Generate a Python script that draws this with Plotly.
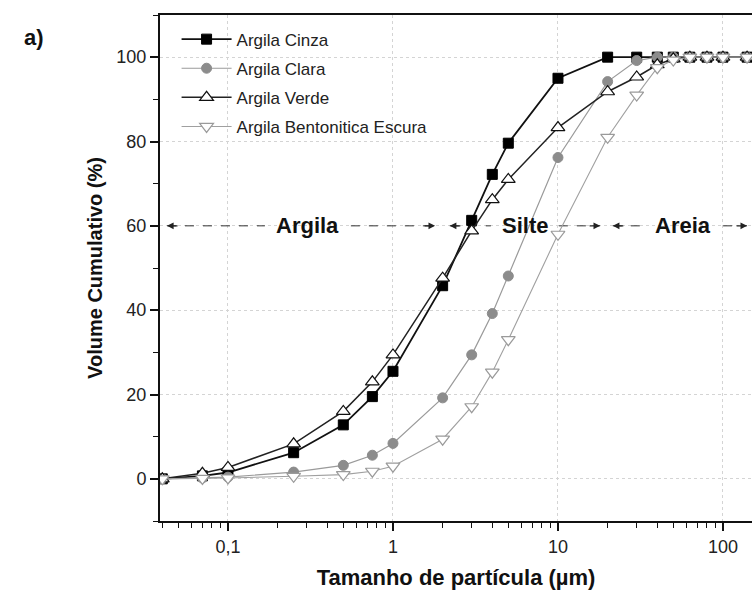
import math
import plotly.graph_objects as go

# ---- data ----
particle_size = [0.04, 0.07, 0.1, 0.25, 0.5, 0.75, 1, 2, 3, 4, 5, 10, 20, 30, 40, 50, 63, 80, 100, 140]
argila_cinza = [0, 0.7, 1.5, 6.2, 12.8, 19.5, 25.5, 45.8, 61.3, 72.2, 79.6, 95.0, 100, 100, 100, 100, 100, 100, 100, 100]
argila_clara = [0, 0.2, 0.4, 1.6, 3.2, 5.6, 8.4, 19.2, 29.4, 39.2, 48.1, 76.2, 94.2, 99.2, 100, 100, 100, 100, 100, 100]
argila_verde = [0, 1.3, 2.7, 8.3, 16.0, 23.0, 29.4, 47.6, 58.8, 66.2, 71.0, 83.3, 91.8, 95.3, 98.2, 99.6, 100, 100, 100, 100]
argila_bentonitica = [0, 0.1, 0.2, 0.6, 1.0, 1.8, 3.0, 9.4, 17.1, 25.3, 33.0, 58.0, 81.0, 91.0, 97.5, 99.3, 100, 100, 100, 100]

series_names = ["Argila Cinza", "Argila Clara", "Argila Verde", "Argila Bentonitica Escura"]

region_names = ["Argila", "Silte", "Areia"]
region_start = [0.0427, 2.21, 21.5]
region_end = [1.80, 18.0, 140]
region_label_at = [0.305, 6.3, 57.3]
region_level = 60

x_tickvals = [0.1, 1, 10, 100]
x_ticktext = ["0,1", "1", "10", "100"]
y_tickvals = [0, 20, 40, 60, 80, 100]

FONT = "Liberation Sans, Arial, sans-serif"

styles = [
    dict(line=dict(color="#111111", width=1.8),
         marker=dict(symbol="square", size=10, color="#000000", line=dict(color="#000000", width=1))),
    dict(line=dict(color="#9a9a9a", width=1.2),
         marker=dict(symbol="circle", size=10, color="#8c8c8c", line=dict(color="#8c8c8c", width=1))),
    dict(line=dict(color="#222222", width=1.5),
         marker=dict(symbol="triangle-up", size=12, color="#ffffff", line=dict(color="#111111", width=1.2))),
    dict(line=dict(color="#a0a0a0", width=1.1),
         marker=dict(symbol="triangle-down", size=12, color="#ffffff", line=dict(color="#9a9a9a", width=1.2))),
]

fig = go.Figure()

# region arrow lines (drawn below data)
decade_px = 165.0
gap_px = [43, 34, 40]
for i, name in enumerate(region_names):
    c = math.log10(region_label_at[i])
    gl = 10 ** (c - gap_px[i] / decade_px)
    gr = 10 ** (c + gap_px[i] / decade_px)
    for seg in ([region_start[i], gl], [gr, region_end[i]]):
        fig.add_trace(go.Scatter(x=seg, y=[region_level, region_level], mode="lines",
                                 line=dict(color="#333333", width=1, dash="dash"),
                                 showlegend=False, hoverinfo="skip"))

data = [argila_cinza, argila_clara, argila_verde, argila_bentonitica]
for i, (name, ys) in enumerate(zip(series_names, data)):
    fig.add_trace(go.Scatter(x=particle_size, y=ys, mode="lines+markers", name=name,
                             legendgroup=name, **styles[i]))

annotations = []
for i, name in enumerate(region_names):
    annotations.append(dict(x=math.log10(region_label_at[i]), y=region_level, xref="x", yref="y",
                            text="<b>%s</b>" % name, showarrow=False,
                            font=dict(family=FONT, size=22, color="#111111")))
    annotations.append(dict(x=math.log10(region_start[i]), y=region_level, xref="x", yref="y",
                            ax=12, ay=0, text="", showarrow=True, arrowhead=2, arrowsize=1.1,
                            arrowwidth=1.2, arrowcolor="#222222"))
    annotations.append(dict(x=math.log10(region_end[i]), y=region_level, xref="x", yref="y",
                            ax=-12, ay=0, text="", showarrow=True, arrowhead=2, arrowsize=1.1,
                            arrowwidth=1.2, arrowcolor="#222222"))
annotations.append(dict(x=-0.233, y=0.985, xref="paper", yref="paper", text="<b>a)</b>",
                        showarrow=False, font=dict(family=FONT, size=22, color="#111111")))

minor_x = [m * 10 ** e for e in range(-2, 3) for m in range(2, 10)]

fig.update_layout(
    width=752, height=598,
    margin=dict(l=160, r=0, t=15, b=77),
    paper_bgcolor="white", plot_bgcolor="white",
    font=dict(family=FONT, size=18, color="#222222"),
    showlegend=True,
    legend=dict(x=0.028, y=0.987, xanchor="left", yanchor="top", bgcolor="rgba(0,0,0,0)",
                font=dict(family=FONT, size=17, color="#222222"),
                traceorder="grouped", tracegroupgap=4, itemwidth=50),
    annotations=annotations,
    xaxis=dict(type="log", range=[-1.412, 2.176],
               tickvals=x_tickvals, ticktext=x_ticktext,
               ticks="outside", ticklen=8, tickwidth=1.5, tickcolor="#111111",
               showline=True, linecolor="#111111", linewidth=2, mirror=True,
               showgrid=True, gridcolor="#d4d4d4", griddash="dot", gridwidth=1,
               zeroline=False,
               minor=dict(tickvals=minor_x, ticks="outside", ticklen=5, tickwidth=1.2,
                          tickcolor="#111111", showgrid=False),
               title=dict(text="<b>Tamanho de partícula (µm)</b>", standoff=14,
                          font=dict(family=FONT, size=22, color="#111111"))),
    yaxis=dict(range=[-10, 110], tickvals=y_tickvals,
               ticks="outside", ticklen=8, tickwidth=1.5, tickcolor="#111111",
               showline=True, linecolor="#111111", linewidth=2, mirror=False,
               showgrid=True, gridcolor="#d4d4d4", griddash="dot", gridwidth=1,
               zeroline=False,
               minor=dict(dtick=10, ticks="outside", ticklen=5, tickwidth=1.2,
                          tickcolor="#111111", showgrid=False),
               title=dict(text="<b>Volume Cumulativo (%)</b>", standoff=8,
                          font=dict(family=FONT, size=20, color="#111111"))),
)

fig.write_html("out.html")
